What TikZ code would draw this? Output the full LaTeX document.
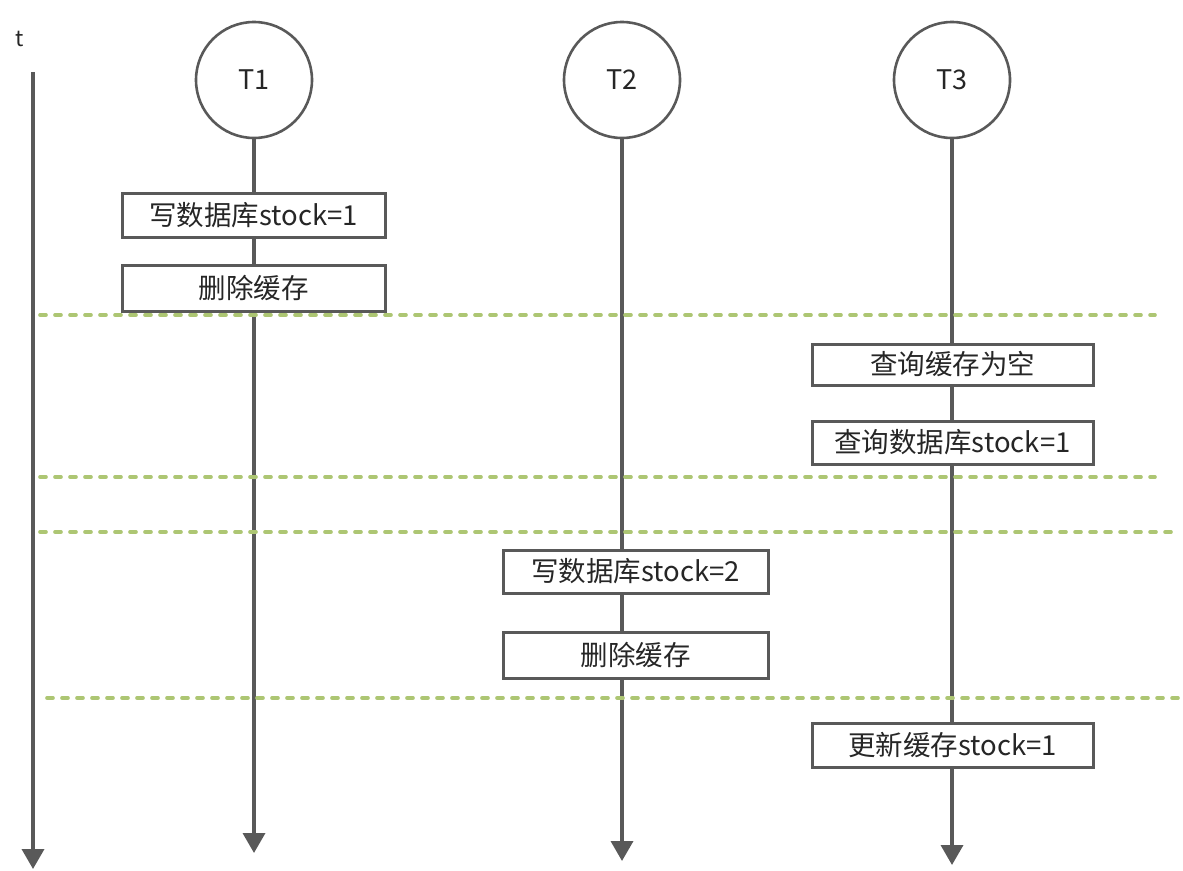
\documentclass[tikz,border=0pt]{standalone}
\usepackage{fontspec}
\setmainfont{Noto Sans CJK SC}
\usetikzlibrary{arrows.meta}
\definecolor{lg}{HTML}{595959}
\definecolor{dg}{HTML}{ADC673}
\begin{document}
\begin{tikzpicture}[x=1pt,y=-1pt,
  proc/.style={circle,draw=lg,line width=2.6pt,minimum size=116pt,inner sep=0pt,font=\fontsize{27}{32}\selectfont,text=black!85},
  act/.style={draw=lg,line width=3pt,fill=white,inner sep=0pt,font=\fontsize{27.5}{32}\selectfont,text=black!85},
  life/.style={draw=lg,line width=3.6pt,-{Triangle[width=22pt,length=20pt]}},
  sep/.style={draw=dg,line width=3.6pt,line cap=round,dash pattern=on 6pt off 9pt}]
\useasboundingbox (0,0) rectangle (1183,870);
\node[font=\fontsize{22}{26}\selectfont,text=black!85] (t) at (20,39) {t};
\coordinate (ts) at (33,72);
\coordinate (te) at (33,869);
\draw[life] (ts) -- (te);
\node[proc] (T1) at (254,80) {T1};
\node[proc] (T2) at (622,80) {T2};
\node[proc] (T3) at (952,80) {T3};
\coordinate (e1) at (254,853);
\coordinate (e2) at (622,861);
\coordinate (e3) at (952,865);
\draw[life] (T1) -- (e1);
\draw[life] (T2) -- (e2);
\draw[life] (T3) -- (e3);
% separators
\coordinate (s1a) at (40,315); \coordinate (s1b) at (1155,315);
\coordinate (s2a) at (40,477); \coordinate (s2b) at (1155,477);
\coordinate (s3a) at (40,532); \coordinate (s3b) at (1175,532);
\coordinate (s4a) at (47,698); \coordinate (s4b) at (1180,698);
\draw[sep] (s1a) -- (s1b);
\draw[sep] (s2a) -- (s2b);
\draw[sep] (s3a) -- (s3b);
\draw[sep] (s4a) -- (s4b);
% boxes
\node[act,minimum width=263pt,minimum height=44pt] (a1) at (253.5,215) {写数据库stock=1};
\node[act,minimum width=263pt,minimum height=46pt] (a2) at (253.5,288) {删除缓存};
\node[act,minimum width=281pt,minimum height=41pt] (c1) at (952.5,364.5) {查询缓存为空};
\node[act,minimum width=281pt,minimum height=43pt] (c2) at (952.5,442.5) {查询数据库stock=1};
\node[act,minimum width=265pt,minimum height=43pt] (b1) at (635.5,571.5) {写数据库stock=2};
\node[act,minimum width=265pt,minimum height=46pt] (b2) at (635.5,655) {删除缓存};
\node[act,minimum width=281pt,minimum height=44pt] (c3) at (952.5,745) {更新缓存stock=1};
\end{tikzpicture}
\end{document}
